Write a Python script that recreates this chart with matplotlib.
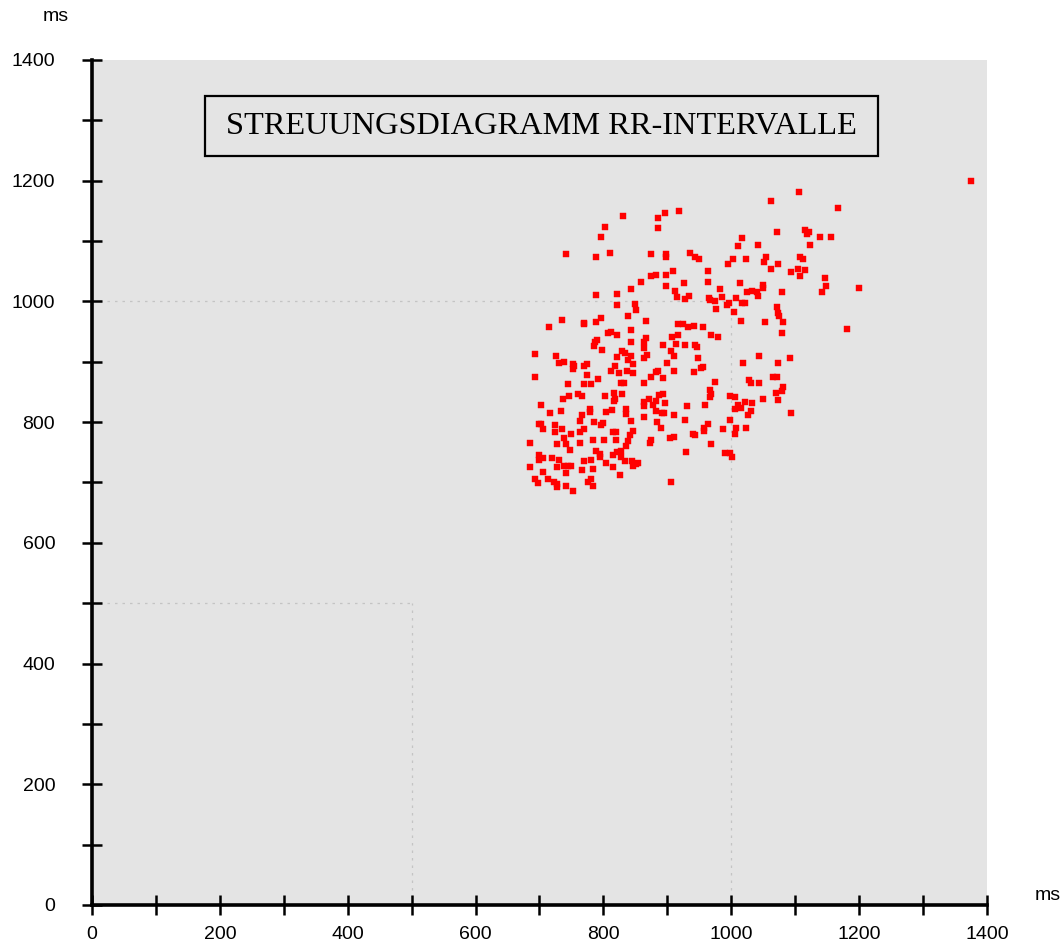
"""
Streuungsdiagramm RR-Intervalle (Poincare plot, RR(n) vs RR(n+1), ms).
"""

import matplotlib

matplotlib.use("Agg")
import matplotlib.pyplot as plt
from matplotlib.patches import Rectangle

plt.rcParams.update(
    {
        "font.family": ["Liberation Sans", "DejaVu Sans"],
        "font.size": 14,
    }
)

TITLE = "STREUUNGSDIAGRAMM RR-INTERVALLE"
UNIT = "ms"

TICKS = list(range(0, 1401, 100))
TICK_LABELS = [str(t) if t % 200 == 0 else "" for t in TICKS]

# RR interval n (x) and RR interval n+1 (y), ms
rr_n = [
    831, 896, 919, 885, 802, 885, 797, 741, 788, 811, 874, 898, 898, 909, 874, 882, 898, 859, 843, 898, 912, 788, 822,
    1106, 1062, 1167, 1072, 1115, 1121, 1119, 1139, 1156, 1123, 1017, 1010, 1042, 936, 944, 950, 1003, 1023, 1054, 1052,
    995, 1073, 1107, 1113, 1062, 1094, 1105, 1115, 1108, 1147, 1149, 1142, 963, 963, 926, 1014, 982, 1050, 1049, 1032,
    1025, 1040, 1079,
    1200, 1181, 1375,
    915, 822, 849, 851, 839, 797, 735, 770, 770, 788, 867, 715, 808, 812, 822, 843, 917, 908, 917, 866, 864, 790, 787,
    786, 798, 843, 863, 894, 914, 906, 910, 693, 726, 829, 834, 843, 868, 863, 822, 839, 846, 899, 730, 738, 752, 754,
    752, 769, 775, 818, 775, 812, 824, 837, 846, 882, 885, 910, 693, 791, 874, 894, 744, 770, 780, 828, 833, 863, 746,
    761, 766, 803, 817, 829, 737, 818, 871, 887, 894,
    816, 863, 864, 882, 878, 896, 702, 717, 733, 766, 779, 779, 804, 814, 836, 836, 864, 883, 891, 895, 910, 763, 786,
    797, 800, 843, 884, 890, 699, 702, 706, 724, 735, 725, 749, 738, 763, 770, 815, 820, 847, 841, 839, 820, 801, 783,
    763, 835, 874, 873, 904, 910, 686, 728, 742, 748, 788, 795, 795, 815, 822, 828, 700, 700, 706, 720, 731, 770, 780,
    804, 828, 834, 845, 847, 851, 854, 728, 738, 745, 750, 686, 706, 741, 766, 784, 815, 826, 693, 697, 713, 723, 727,
    727, 741, 752, 776, 780, 784, 906,
    927, 934, 965, 967, 974, 986, 1008, 1042, 996, 994, 1017, 1021, 976, 1004, 1072, 1073, 1075, 1081, 1016, 1053, 1079,
    925, 933, 941, 956, 969, 980, 927, 944, 947, 948, 956, 952, 941, 975, 967, 968, 967, 998, 1006, 1018, 1043, 1073,
    1092, 1028, 1031, 1043, 1066, 1072, 1081, 1080, 1070, 1050, 1073,
    931, 959, 927, 963, 958, 958, 940, 944, 968, 930, 987, 998, 1006, 1008, 1023, 990, 998, 1002, 1006, 1011, 1016,
    1021, 1032, 1031, 1026, 1094,
]
rr_n1 = [
    1142, 1147, 1149, 1138, 1123, 1121, 1107, 1078, 1073, 1081, 1078, 1079, 1073, 1050, 1042, 1043, 1043, 1032, 1021,
    1025, 1017, 1011, 1012,
    1181, 1166, 1155, 1115, 1119, 1115, 1112, 1106, 1106, 1094, 1105, 1092, 1094, 1081, 1073, 1070, 1071, 1071, 1073,
    1066, 1062, 1062, 1074, 1071, 1053, 1049, 1053, 1052, 1042, 1039, 1025, 1016, 1050, 1032, 1031, 1031, 1021, 1028,
    1022, 1018, 1015, 1015, 1016,
    1022, 955, 1200,
    1007, 994, 996, 986, 976, 973, 969, 964, 962, 966, 968, 957, 948, 949, 944, 953, 962, 941, 944, 939, 933, 936, 932,
    926, 920, 932, 922, 927, 930, 917, 910, 913, 910, 917, 915, 910, 912, 907, 908, 903, 896, 898, 898, 899, 896, 893,
    888, 893, 896, 893, 878, 884, 882, 885, 882, 883, 885, 885, 874, 871, 874, 873, 863, 863, 863, 864, 864, 864, 843,
    846, 843, 843, 848, 846, 839, 839, 839, 845, 846,
    835, 834, 827, 835, 828, 832, 828, 815, 818, 812, 821, 816, 816, 820, 822, 814, 808, 819, 815, 815, 812, 802, 801,
    796, 798, 802, 800, 791, 797, 797, 789, 795, 789, 784, 780, 774, 784, 789, 784, 783, 786, 779, 769, 770, 770, 770,
    766, 761, 770, 766, 774, 776, 766, 763, 763, 753, 752, 747, 743, 745, 751, 752, 746, 738, 741, 741, 738, 735, 738,
    732, 742, 736, 736, 727, 730, 732, 726, 728, 727, 728, 725, 717, 716, 720, 723, 726, 713, 706, 699, 706, 701, 697,
    693, 694, 686, 700, 706, 694, 700,
    1004, 1009, 1006, 1002, 1001, 1008, 1006, 1009, 997, 994, 997, 997, 988, 982, 990, 980, 975, 966, 968, 966, 947,
    962, 958, 960, 957, 944, 941, 927, 927, 925, 906, 892, 889, 883, 867, 854, 847, 842, 843, 841, 898, 910, 898,
    906, 869, 864, 865, 874, 874, 858, 852, 849, 839, 837,
    827, 829, 804, 797, 790, 786, 780, 779, 763, 751, 788, 804, 780, 790, 790, 749, 749, 742, 822, 828, 823,
    833, 831, 818, 811, 815,
]

BG = "#e4e4e4"
GUIDE = "#c4c4c4"
POINT = "#ff0000"


def main():
    fig = plt.figure(figsize=(10.62, 9.52), dpi=100)
    ax = fig.add_axes([0.0866, 0.0494, 0.8427, 0.8876])
    ax.set_facecolor(BG)

    ax.set_xlim(0, 1400)
    ax.set_ylim(0, 1400)

    # dotted guide lines at 500 and 1000 ms
    for v in (500, 1000):
        ax.plot([0, v], [v, v], color=GUIDE, lw=0.9, ls=(0, (2, 4)), zorder=1)
        ax.plot([v, v], [0, v], color=GUIDE, lw=0.9, ls=(0, (2, 4)), zorder=1)

    ax.plot(rr_n, rr_n1, ls="none", marker="s", ms=3.8, mfc=POINT, mec=POINT,
            mew=0.3, zorder=3)

    for side in ("top", "right"):
        ax.spines[side].set_visible(False)
    for side in ("left", "bottom"):
        ax.spines[side].set_linewidth(2.6)
        ax.spines[side].set_color("black")
        ax.spines[side].set_zorder(4)

    ax.set_xticks(TICKS)
    ax.set_xticklabels(TICK_LABELS)
    ax.set_yticks(TICKS)
    ax.set_yticklabels(TICK_LABELS)
    ax.tick_params(axis="both", direction="inout", length=15, width=1.8,
                   color="black", labelsize=14)
    ax.tick_params(axis="x", pad=8)
    ax.tick_params(axis="y", pad=19)

    ax.text(-0.040, 1.052, UNIT, transform=ax.transAxes, ha="center",
            va="center", fontsize=14)
    ax.text(1.068, 0.011, UNIT, transform=ax.transAxes, ha="center",
            va="center", fontsize=14)

    # title box
    ax.add_patch(Rectangle((177, 1241), 1053, 99, fc="none", ec="black",
                           lw=1.6, zorder=5))
    ax.text(703, 1290, TITLE, ha="center", va="center",
            family=["Liberation Serif", "DejaVu Serif"], fontsize=23.3, zorder=6)

    fig.savefig("out.png", dpi=100)
    plt.close(fig)


if __name__ == "__main__":
    main()
